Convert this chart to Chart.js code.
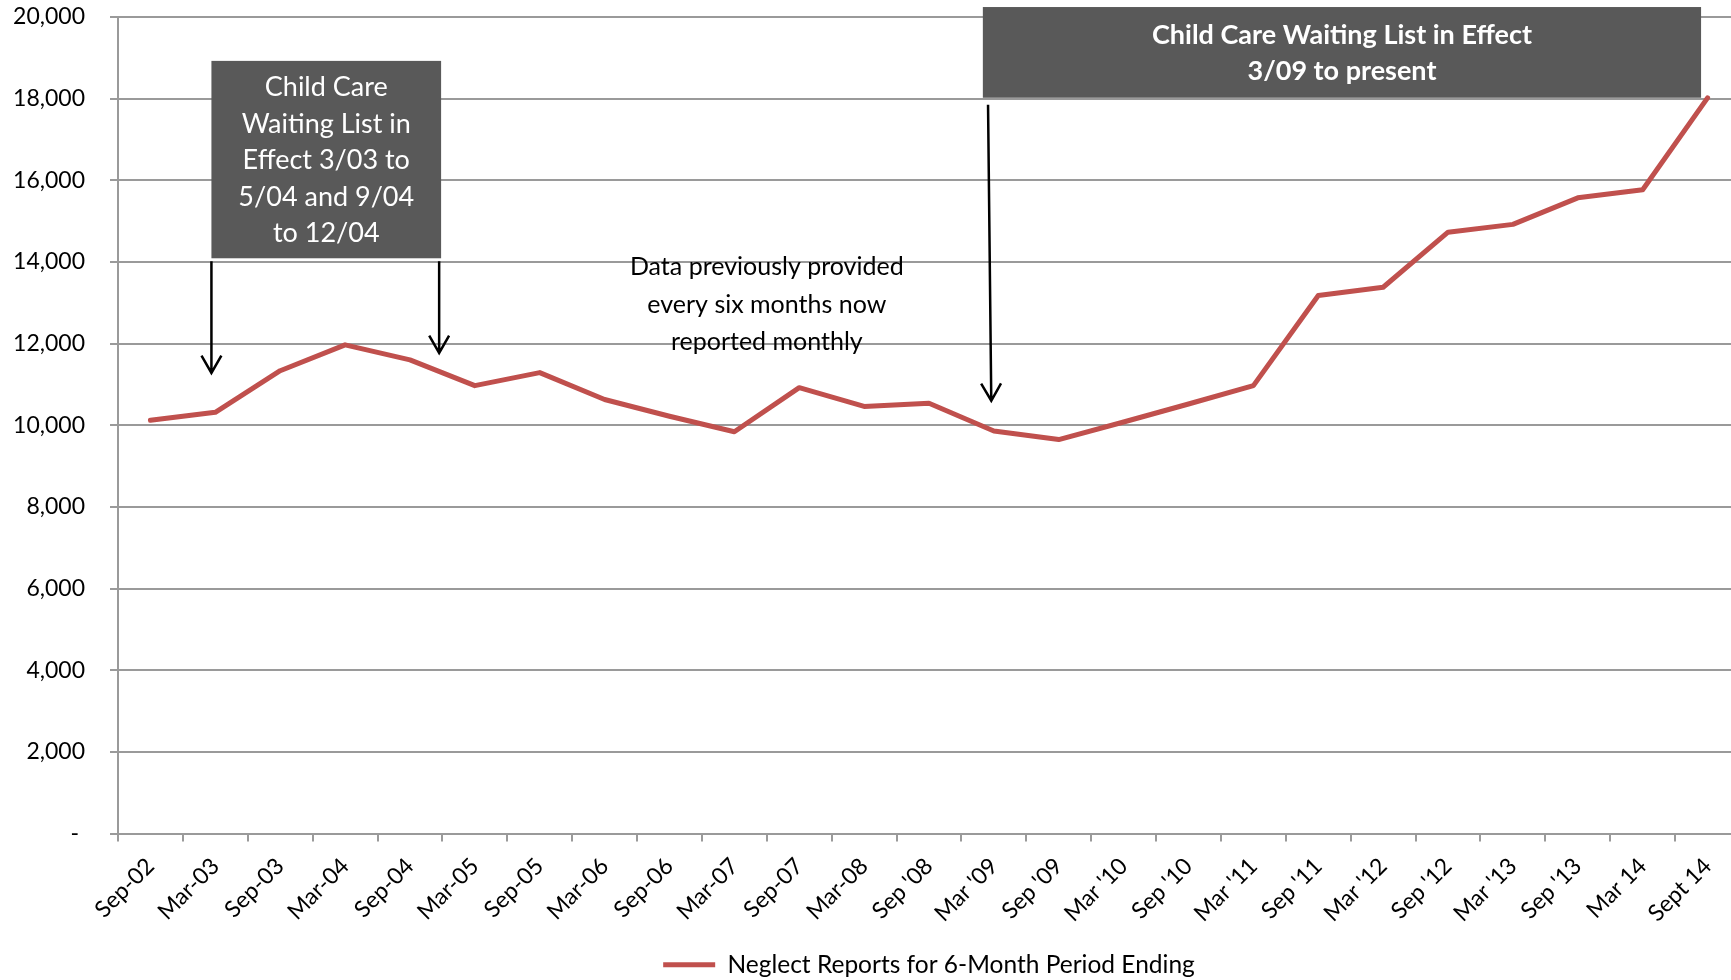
<!DOCTYPE html>
<html>
<head>
<meta charset="utf-8">
<script src="https://cdn.jsdelivr.net/npm/chart.js@4.4.1/dist/chart.umd.min.js"></script>
<style>
    html, body { margin: 0; padding: 0; background: #fff; overflow: hidden; }
    #wrap { width: 1760px; height: 980px; }
</style>
</head>
<body>
<div id="wrap"><canvas id="grafico" width="1760" height="980"></canvas></div>
<script>

// DATOS
const periodos = [
    'Sep-02', 'Mar-03', 'Sep-03', 'Mar-04', 'Sep-04', 'Mar-05',
    'Sep-05', 'Mar-06', 'Sep-06', 'Mar-07', 'Sep-07', 'Mar-08',
    "Sep '08", "Mar '09", "Sep '09", "Mar '10", "Sep '10", "Mar '11",
    "Sep '11", "Mar '12", "Sep '12", "Mar '13", "Sep '13", 'Mar 14',
    'Sept 14'
];

const reportes = [
    10120, 10316, 11336, 11970, 11600, 10970,
    11290, 10630, 10220, 9840, 10920, 10460,
    10540, 9860, 9650, 10080, 10520, 10970,
    13180, 13380, 14730, 14920, 15570, 15770,
    18020
];

const ticksY = [
    0, 2000, 4000, 6000, 8000, 10000,
    12000, 14000, 16000, 18000, 20000
];

const serie = 'Neglect Reports for 6-Month Period Ending';

const gris = '#9a9a9a';
const rojo = '#c0504d';
const caja = '#595959';


function flecha(ctx, x1, y1, x2, y2) {

    const ang = Math.atan2(y2 - y1, x2 - x1);

    ctx.beginPath();
    ctx.moveTo(x1, y1);
    ctx.lineTo(x2, y2);

    ctx.moveTo(
        x2 - 20 * Math.cos(ang - 0.52),
        y2 - 20 * Math.sin(ang - 0.52)
    );
    ctx.lineTo(x2, y2);
    ctx.lineTo(
        x2 - 20 * Math.cos(ang + 0.52),
        y2 - 20 * Math.sin(ang + 0.52)
    );

    ctx.stroke();
}


function lineas(ctx, textos, cx, cy, alto) {

    const inicio = cy - (textos.length - 1) * alto / 2;

    textos.forEach((t, i) => {

        ctx.fillText(t, cx, inicio + i * alto);
    });
}


// ANOTACIONES
const anotaciones = {

    id: 'anotaciones',

    afterDatasetsDraw(chart) {

        const ctx = chart.ctx;
        const sx = chart.scales.x;
        const sy = chart.scales.y;

        const px = v => sx.getPixelForValue(v);
        const py = v => sy.getPixelForValue(v);

        ctx.save();

        // caja izquierda
        const a1 = px(0.94), a2 = px(4.48);
        const b1 = py(18925), b2 = py(14090);

        ctx.fillStyle = caja;
        ctx.fillRect(a1, b1, a2 - a1, b2 - b1);

        ctx.fillStyle = '#ffffff';
        ctx.font = '27px Lato';
        ctx.textAlign = 'center';
        ctx.textBaseline = 'middle';

        lineas(ctx, [
            'Child Care',
            'Waiting List in',
            'Effect 3/03 to',
            '5/04 and 9/04',
            'to 12/04'
        ], (a1 + a2) / 2, (b1 + b2) / 2 + 1, 36.5);

        // caja derecha
        const c1 = px(12.83), c2 = px(23.9);
        const d1 = py(20244), d2 = py(18022);

        ctx.fillStyle = caja;
        ctx.fillRect(c1, d1, c2 - c1, d2 - d1);

        ctx.fillStyle = '#ffffff';
        ctx.font = 'bold 27px Lato';

        lineas(ctx, [
            'Child Care Waiting List in Effect',
            '3/09 to present'
        ], (c1 + c2) / 2, (d1 + d2) / 2 + 1, 36);

        // texto central
        ctx.fillStyle = '#000000';
        ctx.font = '25px Lato';

        lineas(ctx, [
            'Data previously provided',
            'every six months now',
            'reported monthly'
        ], px(9.5), py(12950), 37.5);

        // flechas
        ctx.strokeStyle = '#000000';
        ctx.lineWidth = 2.5;

        flecha(ctx, px(0.94), py(14017), px(0.94), py(11282));
        flecha(ctx, px(4.45), py(14017), px(4.45), py(11770));
        flecha(ctx, px(12.91), py(17850), px(12.96), py(10600));

        ctx.restore();
    }
};


function dibujar() {

    Chart.defaults.font.family = 'Lato';
    Chart.defaults.color = '#000000';

    new Chart(

        document.getElementById(
            'grafico'
        ),

        {
            type: 'line',

            data: {

                labels: periodos,

                datasets: [{

                    label: serie,

                    data: reportes,

                    borderColor: rojo,
                    backgroundColor: rojo,
                    borderWidth: 5,
                    borderJoinStyle: 'round',
                    borderCapStyle: 'round',
                    pointRadius: 0,
                    tension: 0
                }]
            },

            options: {

                responsive: false,
                animation: false,

                layout: {
                    padding: { top: 17, right: 20, bottom: -7, left: 0 }
                },

                plugins: {

                    tooltip: { enabled: false },

                    legend: {

                        position: 'bottom',
                        fullSize: false,

                        labels: {

                            font: { size: 24.5 },
                            color: '#000000',
                            boxWidth: 52,
                            boxHeight: 5,
                            padding: 8,

                            generateLabels: chart =>
                                Chart.defaults.plugins.legend.labels
                                    .generateLabels(chart)
                                    .map(l => ({ ...l, lineWidth: 0, fillStyle: rojo }))
                        }
                    }
                },

                scales: {

                    x: {

                        offset: true,

                        grid: {
                            offset: true,
                            drawOnChartArea: false,
                            color: gris,
                            lineWidth: 2,
                            tickLength: 8
                        },

                        border: { color: gris, width: 2 },

                        ticks: {
                            autoSkip: false,
                            minRotation: 45,
                            maxRotation: 45,
                            padding: 11,
                            font: { size: 23 }
                        },

                        afterFit: s => {
                            s.height = 111;
                            s.paddingLeft = 0;
                            s.paddingRight = 0;
                        }
                    },

                    y: {

                        min: 0,
                        max: 20000,

                        afterBuildTicks: s => {
                            s.ticks = ticksY.map(v => ({ value: v }));
                        },

                        grid: {
                            color: gris,
                            lineWidth: 2,
                            tickLength: 8
                        },

                        border: { color: gris, width: 2 },

                        ticks: {
                            padding: 25,
                            font: { size: 23 },
                            callback: v => v === 0 ? '- ' : v.toLocaleString('en-US')
                        },

                        afterFit: s => {
                            s.width = 118;
                            s.paddingTop = 0;
                            s.paddingBottom = 0;
                        }
                    }
                }
            },

            plugins: [anotaciones]
        }
    );
}

Promise.all([
    document.fonts.load('23px Lato'),
    document.fonts.load('bold 27px Lato')
]).then(dibujar, dibujar);

</script>
</body>
</html>
